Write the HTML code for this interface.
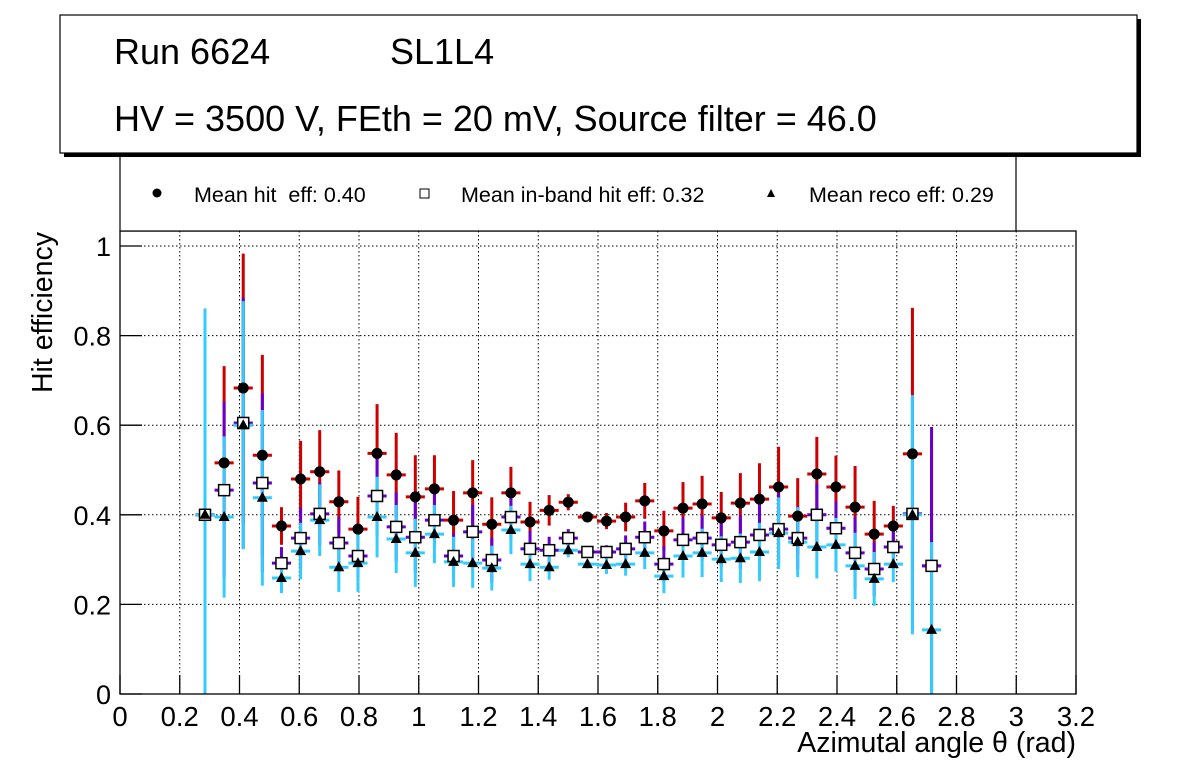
<!DOCTYPE html>
<html><head><meta charset="utf-8"><style>
html,body{margin:0;padding:0;background:#fff;}
svg{display:block;font-family:"Liberation Sans",Arial,sans-serif;}
text{white-space:pre;}
</style></head><body>
<svg id="chart" width="1196" height="772" viewBox="0 0 1196 772" xmlns="http://www.w3.org/2000/svg">
<rect x="0" y="0" width="1196" height="772" fill="#fff"/>
<g id="grid"></g>
<g id="marks"></g>
<rect x="120" y="231" width="956" height="463" fill="none" stroke="#000" stroke-width="1.3"/>
<g id="axes"></g>
<text x="52" y="232" transform="rotate(-90 52 232)" text-anchor="end" font-size="28.5">Hit efficiency</text>
<text x="1076" y="752" text-anchor="end" font-size="28.5">Azimutal angle θ (rad)</text>
<g>
<rect x="120" y="150" width="896" height="81" fill="#fff" stroke="#000" stroke-width="1.2"/>
<circle cx="157" cy="193" r="4.5" fill="#000"/>
<text x="194" y="202" font-size="21.5" xml:space="preserve">Mean hit  eff: 0.40</text>
<rect x="420" y="189" width="9" height="9" fill="#fff" stroke="#000" stroke-width="1"/>
<text x="461" y="202" font-size="21.5">Mean in-band hit eff: 0.32</text>
<polygon points="771,189 775,197 767,197" fill="#000"/>
<text x="809" y="202" font-size="21.5">Mean reco eff: 0.29</text>
</g>
<g>
<rect x="64" y="19" width="1077" height="138" fill="#000"/>
<rect x="60" y="15" width="1077" height="138" fill="#fff" stroke="#000" stroke-width="1.2"/>
<text x="114" y="64" font-size="36">Run 6624</text>
<text x="390" y="64" font-size="36">SL1L4</text>
<text x="114" y="131" font-size="36">HV = 3500 V, FEth = 20 mV, Source filter = 46.0</text>
</g>
</svg>
<script>
const binCenters = [0.2845,0.3485,0.4125,0.4765,0.5405,0.6045,0.6685,0.7325,0.7965,0.8605,0.9245,0.9885,1.0525,1.1165,1.1805,1.2445,1.3085,1.3725,1.4365,1.5005,1.5645,1.6285,1.6925,1.7565,1.8205,1.8845,1.9485,2.0125,2.0765,2.1405,2.2045,2.2685,2.3325,2.3965,2.4605,2.5245,2.5885,2.6525,2.7165];
const hitEff = [0.40,0.516,0.683,0.533,0.375,0.48,0.496,0.429,0.368,0.537,0.489,0.44,0.458,0.388,0.449,0.379,0.449,0.384,0.41,0.428,0.395,0.386,0.395,0.431,0.364,0.415,0.424,0.393,0.426,0.435,0.462,0.397,0.491,0.462,0.417,0.357,0.375,0.536,0.286];
const hitErr = [0.46,0.216,0.30,0.224,0.042,0.085,0.093,0.07,0.072,0.11,0.094,0.093,0.075,0.065,0.073,0.06,0.058,0.045,0.034,0.018,0.01,0.018,0.032,0.04,0.045,0.058,0.063,0.058,0.067,0.08,0.09,0.085,0.083,0.07,0.092,0.074,0.045,0.326,0.28];
const inbandEff = [0.40,0.455,0.605,0.471,0.292,0.348,0.402,0.337,0.308,0.442,0.373,0.35,0.388,0.308,0.362,0.299,0.395,0.324,0.321,0.348,0.317,0.317,0.324,0.35,0.29,0.344,0.348,0.333,0.339,0.355,0.368,0.348,0.40,0.37,0.315,0.279,0.328,0.402,0.286];
const inbandErr = [0.46,0.197,0.28,0.20,0.036,0.067,0.07,0.058,0.05,0.09,0.077,0.08,0.06,0.05,0.06,0.05,0.05,0.04,0.03,0.02,0.01,0.015,0.03,0.035,0.04,0.05,0.05,0.05,0.06,0.07,0.08,0.07,0.07,0.06,0.08,0.06,0.04,0.26,0.31];
const recoEff = [0.40,0.395,0.60,0.438,0.259,0.319,0.388,0.283,0.292,0.395,0.346,0.315,0.357,0.295,0.292,0.281,0.366,0.29,0.283,0.321,0.29,0.288,0.29,0.315,0.263,0.308,0.315,0.301,0.303,0.317,0.359,0.339,0.328,0.333,0.286,0.257,0.29,0.40,0.143];
const recoErr = [0.46,0.18,0.277,0.196,0.034,0.063,0.08,0.055,0.064,0.09,0.076,0.076,0.065,0.056,0.055,0.05,0.054,0.038,0.028,0.016,0.01,0.02,0.026,0.036,0.038,0.048,0.054,0.051,0.055,0.065,0.08,0.078,0.07,0.06,0.074,0.06,0.04,0.267,0.196];
const xTicks = ["0","0.2","0.4","0.6","0.8","1","1.2","1.4","1.6","1.8","2","2.2","2.4","2.6","2.8","3","3.2"];
const yTicks = ["0","0.2","0.4","0.6","0.8","1"];
const binHalfWidth = 0.032;

const NS="http://www.w3.org/2000/svg";
const X0=120,X1=1076,Y0=694,Y1=231,XMAX=3.2,YMAX=(694-231)/448;
function xs(v){return X0+(v/XMAX)*(X1-X0);}
function ys(v){return Y0-(v/YMAX)*(Y0-Y1);}
function clampY(v){return Math.max(0,Math.min(YMAX,v));}
function mk(tag,attrs,parent){const e=document.createElementNS(NS,tag);for(const k in attrs)e.setAttribute(k,attrs[k]);parent.appendChild(e);return e;}
const grid=document.getElementById('grid'),axes=document.getElementById('axes'),marks=document.getElementById('marks');

xTicks.forEach((t,i)=>{const v=parseFloat(t),x=xs(v);
 if(i>0&&i<xTicks.length-1){const g=mk('line',{x1:x,x2:x,y1:Y1,y2:Y0,stroke:'#000','stroke-width':1,'stroke-dasharray':'1.5,2.5'},grid);
 
 }
 const tk=mk('line',{x1:x,x2:x,y1:Y0,y2:Y0-19,stroke:'#000','stroke-width':1.3},axes);
 
 
 const lb=mk('text',{x:x,y:726,'text-anchor':'middle','font-size':27.5},axes);lb.textContent=t;
 
 
});
yTicks.forEach((t,i)=>{const v=parseFloat(t),y=ys(v);
 if(i>0){const g=mk('line',{x1:X0,x2:X1,y1:y,y2:y,stroke:'#000','stroke-width':1,'stroke-dasharray':'1.5,2.5'},grid);
 
 }
 const tk=mk('line',{x1:X0,x2:X0+22,y1:y,y2:y,stroke:'#000','stroke-width':1.3},axes);
 
 
 const lb=mk('text',{x:111,y:y+10,'text-anchor':'end','font-size':27},axes);lb.textContent=t;
 
 
});

function drawErrors(vals,errs,color,name){
 vals.forEach((v,i)=>{const c=binCenters[i],x=xs(c);
  const g=mk('g',{},marks);
  
  
  mk('line',{x1:x,x2:x,y1:ys(clampY(v+errs[i])),y2:ys(clampY(v-errs[i])),stroke:color,'stroke-width':3},g);
  mk('line',{x1:xs(c-binHalfWidth),x2:xs(c+binHalfWidth),y1:ys(v),y2:ys(v),stroke:color,'stroke-width':3},g);
 });
}
drawErrors(hitEff,hitErr,'#cc0000','hit');
drawErrors(inbandEff,inbandErr,'#6600cc','inband');
drawErrors(recoEff,recoErr,'#33ccff','reco');
hitEff.forEach((v,i)=>{const c=mk('circle',{cx:xs(binCenters[i]),cy:ys(v),r:5.5,fill:'#000'},marks);
 
 });
inbandEff.forEach((v,i)=>{const x=xs(binCenters[i]),y=ys(v);const r=mk('rect',{x:x-5.5,y:y-5.5,width:11,height:11,fill:'#fff',stroke:'#000','stroke-width':1.5},marks);
 
 });
recoEff.forEach((v,i)=>{const x=xs(binCenters[i]),y=ys(v);const p=mk('polygon',{points:`${x},${y-6} ${x+5.5},${y+4} ${x-5.5},${y+4}`,fill:'#000'},marks);
 
 });
</script>
</body></html>
